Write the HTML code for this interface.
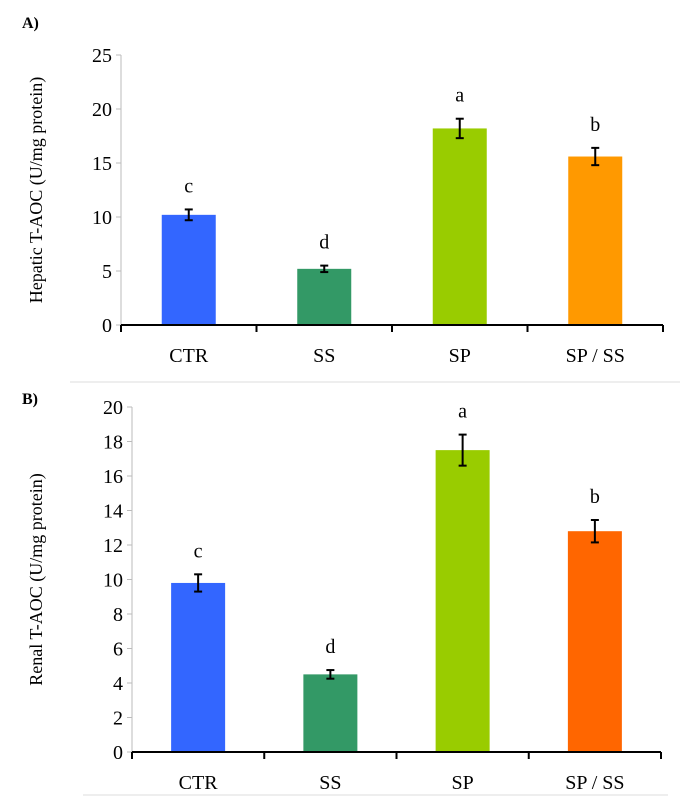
<!DOCTYPE html>
<html><head><meta charset="utf-8"><style>
body{margin:0;background:#fff;}
svg{display:block;font-family:"Liberation Serif",serif;}
</style></head><body>
<svg id="chart" width="687" height="805" viewBox="0 0 687 805"></svg>
<script>
const categories=["CTR","SS","SP","SP / SS"];
const hepaticValues=[10.2,5.2,18.2,15.6];
const hepaticErrors=[0.5,0.3,0.9,0.8];
const hepaticLetters=["c","d","a","b"];
const hepaticTicks=[0,5,10,15,20,25];
const renalValues=[9.8,4.5,17.5,12.8];
const renalErrors=[0.5,0.25,0.9,0.65];
const renalLetters=["c","d","a","b"];
const renalTicks=[0,2,4,6,8,10,12,14,16,18,20];

const NS="http://www.w3.org/2000/svg";
const svg=document.getElementById('chart');
function mk(tag,attrs,parent,text){const e=document.createElementNS(NS,tag);for(const k in attrs)e.setAttribute(k,attrs[k]);if(text!==undefined)e.textContent=text;(parent||svg).appendChild(e);return e;}

function panel(cfg){
  const g=mk('g',{});
  
  
  const max=cfg.ticks[cfg.ticks.length-1];
  const y=v=>cfg.y0-(v/max)*(cfg.y0-cfg.yTop);
  const bw=(cfg.x1-cfg.x0)/categories.length;
  const x=i=>cfg.x0+bw*(i+0.5);
  const lab=mk('text',{x:22,y:cfg.labelY,'font-size':16,'font-weight':'bold'},g,cfg.label);
  
  
  const ya=mk('line',{x1:cfg.x0,y1:cfg.yTop,x2:cfg.x0,y2:cfg.y0,stroke:'#bbb','stroke-width':1},g);
  
  
  cfg.ticks.forEach(t=>{
    mk('line',{x1:cfg.x0-5,y1:y(t),x2:cfg.x0,y2:y(t),stroke:'#bbb'},g);
    const tt=mk('text',{x:cfg.x0-9,y:y(t)+7,'font-size':20,'text-anchor':'end'},g,t);
    
    
  });
  const yc=(cfg.yTop+cfg.y0)/2;
  const yt=mk('text',{x:0,y:0,'font-size':18,'text-anchor':'middle',transform:`translate(42,${yc}) rotate(-90)`},g,cfg.title);
  
  
  categories.forEach((c,i)=>{
    const v=cfg.values[i],e=cfg.errors[i];
    const b=mk('rect',{x:x(i)-27,y:y(v),width:54,height:cfg.y0-y(v),fill:cfg.colors[i]},g);
    
    
    const eg=mk('g',{stroke:'#000','stroke-width':2},g);
    
    
    mk('line',{x1:x(i),y1:y(v+e),x2:x(i),y2:y(v-e)},eg);
    mk('line',{x1:x(i)-4,y1:y(v+e),x2:x(i)+4,y2:y(v+e)},eg);
    mk('line',{x1:x(i)-4,y1:y(v-e),x2:x(i)+4,y2:y(v-e)},eg);
    const l=mk('text',{x:x(i),y:y(v+e)-17,'font-size':20,'text-anchor':'middle'},g,cfg.letters[i]);
    
    
    const cl=mk('text',{x:x(i),y:cfg.y0+37,'font-size':20,'text-anchor':'middle'},g,c);
    
    
  });
  const xa=mk('line',{x1:cfg.x0,y1:cfg.y0,x2:cfg.x1,y2:cfg.y0,stroke:'#000','stroke-width':2},g);
  
  
  for(let i=0;i<=categories.length;i++){
    mk('line',{x1:cfg.x0+bw*i,y1:cfg.y0,x2:cfg.x0+bw*i,y2:cfg.y0+7,stroke:'#000','stroke-width':2},g);
  }
  const sep=mk('line',{x1:cfg.sepX0,y1:cfg.sepY,x2:cfg.sepX1,y2:cfg.sepY,stroke:'#ddd','stroke-width':1},g);
  
  
}
panel({name:'hepatic-chart',label:'A)',labelY:28,title:'Hepatic T-AOC (U/mg protein)',values:hepaticValues,errors:hepaticErrors,letters:hepaticLetters,ticks:hepaticTicks,colors:['#3366ff','#339966','#99cc00','#ff9900'],x0:121,x1:663,yTop:55,y0:325,sepX0:70,sepX1:680,sepY:382});
panel({name:'renal-chart',label:'B)',labelY:404,title:'Renal T-AOC (U/mg protein)',values:renalValues,errors:renalErrors,letters:renalLetters,ticks:renalTicks,colors:['#3366ff','#339966','#99cc00','#ff6600'],x0:132,x1:661,yTop:407,y0:752,sepX0:83,sepX1:668,sepY:795});
</script>
</body></html>
